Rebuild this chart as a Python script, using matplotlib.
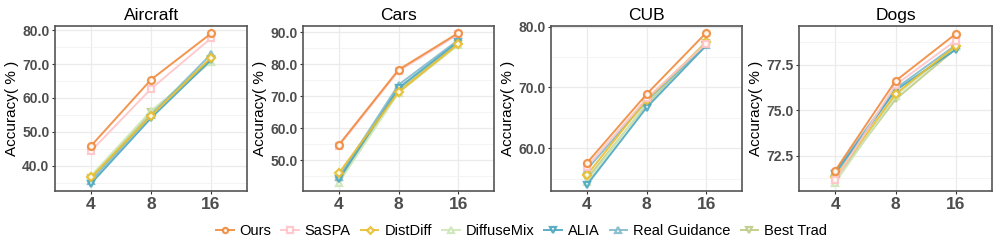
import matplotlib
matplotlib.use("Agg")
import matplotlib.pyplot as plt
from matplotlib.ticker import MultipleLocator

plt.rcParams['font.family'] = ['Liberation Sans', 'DejaVu Sans']

shots = ["4", "8", "16"]
datasets = ["Aircraft", "Cars", "CUB", "Dogs"]
methods = ["Ours", "SaSPA", "DistDiff", "DiffuseMix", "ALIA", "Real Guidance", "Best Trad"]

# accuracy per method, per dataset (4 / 8 / 16 shots)
aircraft = {
    "Ours": [45.9, 65.4, 79.0],
    "SaSPA": [44.4, 62.7, 77.6],
    "DistDiff": [36.6, 54.8, 71.9],
    "DiffuseMix": [37.1, 56.2, 70.6],
    "ALIA": [34.8, 54.1, 71.2],
    "Real Guidance": [35.6, 55.0, 72.9],
    "Best Trad": [36.4, 55.8, 71.5],
}
cars = {
    "Ours": [54.8, 78.3, 89.8],
    "SaSPA": [54.5, 77.9, 89.4],
    "DistDiff": [46.0, 71.3, 86.4],
    "DiffuseMix": [43.0, 71.1, 86.0],
    "ALIA": [44.0, 72.6, 87.1],
    "Real Guidance": [44.8, 73.6, 87.6],
    "Best Trad": [43.6, 72.0, 86.5],
}
cub = {
    "Ours": [57.6, 68.9, 79.0],
    "SaSPA": [57.0, 68.2, 77.2],
    "DistDiff": [55.6, 68.0, 77.4],
    "DiffuseMix": [54.4, 67.5, 77.6],
    "ALIA": [54.0, 66.7, 76.9],
    "Real Guidance": [56.5, 67.8, 77.0],
    "Best Trad": [55.0, 67.2, 77.3],
}
dogs = {
    "Ours": [71.67, 76.62, 79.22],
    "SaSPA": [71.15, 76.40, 78.85],
    "DistDiff": [71.30, 75.90, 78.55],
    "DiffuseMix": [71.00, 75.80, 78.50],
    "ALIA": [71.50, 76.10, 78.35],
    "Real Guidance": [71.60, 76.20, 78.60],
    "Best Trad": [71.20, 75.60, 78.40],
}
all_data = [aircraft, cars, cub, dogs]

ylims = [(32.6, 81.2), (40.4, 92.0), (53.0, 80.1), (70.55, 79.65)]
ymajor = [10, 10, 10, 2.5]

colors = {
    "Ours": "#F08A3C",
    "SaSPA": "#FFC4C8",
    "DistDiff": "#E9BE2C",
    "DiffuseMix": "#CDE6B8",
    "ALIA": "#4BA6C0",
    "Real Guidance": "#80BACB",
    "Best Trad": "#BDCB85",
}
markers = {
    "Ours": "o",
    "SaSPA": "s",
    "DistDiff": "D",
    "DiffuseMix": "^",
    "ALIA": "v",
    "Real Guidance": "^",
    "Best Trad": "v",
}
# drawing order: background lines first, ours on top
draw_order = ["Best Trad", "DiffuseMix", "Real Guidance", "ALIA", "DistDiff", "SaSPA", "Ours"]

fig = plt.figure(figsize=(9.97, 2.49), dpi=100)
lefts = [0.0552, 0.3039, 0.5527, 0.8014]
widths = [0.1926, 0.1916, 0.1916, 0.1936]

handles = {}
for i, name in enumerate(datasets):
    ax = fig.add_axes([lefts[i], 0.2329, widths[i], 0.6627])
    data = all_data[i]
    xs = [1, 2, 3]
    for m in draw_order:
        msize = 5 if markers[m] != "D" else 4.5
        line, = ax.plot(xs, data[m], color=colors[m], lw=1.4, marker=markers[m],
                        markersize=msize, markerfacecolor="white",
                        markeredgecolor=colors[m], markeredgewidth=1.6,
                        alpha=0.9, zorder=3)
        handles[m] = line
    ax.set_xlim(0.4, 3.6)
    ax.set_ylim(*ylims[i])
    ax.set_xticks(xs)
    ax.set_xticklabels(shots, fontsize=12.5, fontweight="bold", color="#4D4D4D")
    ax.yaxis.set_major_locator(MultipleLocator(ymajor[i]))
    ax.yaxis.set_minor_locator(MultipleLocator(ymajor[i] / 2))
    ax.xaxis.set_minor_locator(MultipleLocator(1))
    ax.yaxis.set_major_formatter(plt.FormatStrFormatter("%.1f"))
    for lab in ax.get_yticklabels():
        lab.set_fontweight("bold")
        lab.set_fontsize(10)
        lab.set_color("#4D4D4D")
    ax.grid(True, which="major", color="#EBEBEB", lw=0.9, zorder=0)
    ax.grid(True, which="minor", axis="y", color="#F3F3F3", lw=0.6, zorder=0)
    ax.set_axisbelow(True)
    ax.tick_params(axis="both", which="major", length=2.5, width=0.8, color="#333333", pad=1.5)
    ax.tick_params(axis="both", which="minor", length=0)
    for sp in ax.spines.values():
        sp.set_color("#555555")
        sp.set_linewidth(1.2)
    ax.set_title(name, fontsize=12.5, pad=4)
    ax.set_ylabel("Accuracy( % )", fontsize=11, labelpad=2)

fig.legend([handles[m] for m in methods], methods, loc="center", bbox_to_anchor=(0.523, 0.072),
           ncol=7, frameon=False, fontsize=10.5, handlelength=1.2, handletextpad=0.4,
           columnspacing=0.7, markerscale=0.75)

fig.savefig("out.png", dpi=100)
